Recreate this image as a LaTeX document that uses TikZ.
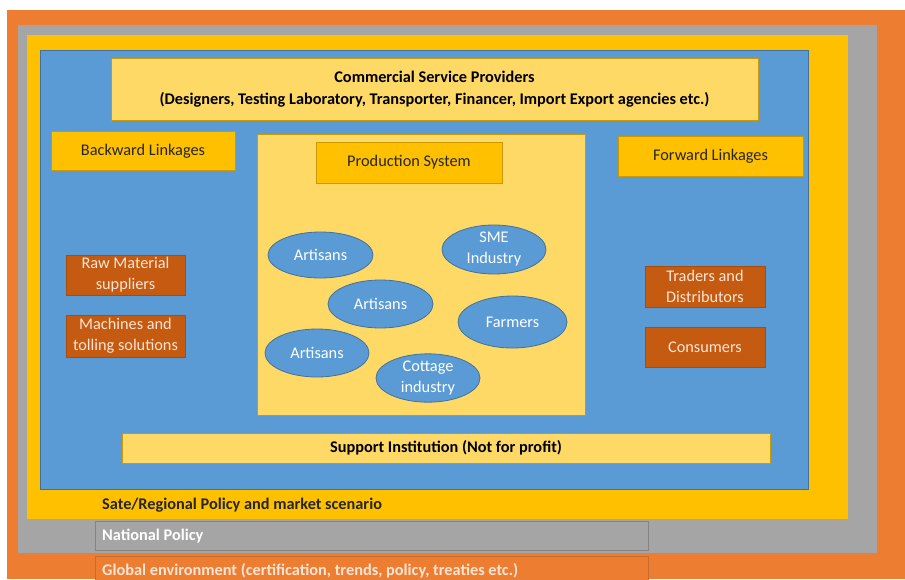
\documentclass[tikz,border=0pt]{standalone}
\usepackage{fontspec}
\setmainfont{Carlito}
\usetikzlibrary{shapes.geometric}

\definecolor{bandorange}{HTML}{ED7D31}
\definecolor{bandgray}{HTML}{A5A5A5}
\definecolor{bandgold}{HTML}{FFC000}
\definecolor{bandblue}{HTML}{5B9BD5}
\definecolor{paleyellow}{HTML}{FFD966}
\definecolor{rust}{HTML}{C55A11}
\definecolor{cream}{HTML}{FBE5D6}
\definecolor{blueedge}{HTML}{41719C}
\definecolor{goldedge}{HTML}{C99A06}
\definecolor{textdark}{HTML}{262626}

\tikzset{
  labelfont/.style={font=\fontsize{16.3}{21}\selectfont},
  boldfont/.style={font=\bfseries\fontsize{16.3}{22}\selectfont},
  goldbox/.style={rectangle, inner sep=0pt, align=center, labelfont,
    fill=bandgold, draw=goldedge, line width=0.8pt, text=textdark},
  palebox/.style={rectangle, inner sep=0pt, align=center,
    fill=paleyellow, draw=goldedge, line width=0.6pt, text=black},
  rustbox/.style={rectangle, inner sep=0pt, align=center, labelfont,
    fill=rust, draw=rust!85!black, line width=0.6pt, text=cream},
  unit/.style={ellipse, inner sep=0pt, align=center,
    font=\fontsize{16.3}{21}\selectfont,
    fill=bandblue, draw=blueedge, line width=0.8pt, text=white},
  bandlabel/.style={anchor=west, inner sep=0pt, boldfont},
}

\begin{document}
\begin{tikzpicture}[x=1pt,y=-1pt]
  \useasboundingbox (0,0) rectangle (905,579);
  \fill[white] (0,0) rectangle (905,579);

  % nested environment layers
  \fill[bandorange] (7,10) rectangle (905,579);
  \fill[bandgray] (18,25) rectangle (877,553);
  \fill[bandgold] (27,35) rectangle (848,519);
  \fill[bandblue] (40,50) rectangle (808,489);
  \draw[blueedge, line width=0.6pt] (40,50) rectangle (808,489);

  % top and bottom providers
  \node[palebox, boldfont, minimum width=647pt, minimum height=62pt]
    (csp) at (434.5,89.5)
    {Commercial Service Providers\\
     (Designers, Testing Laboratory, Transporter, Financer, Import Export agencies etc.)};
  \node[palebox, boldfont, minimum width=648pt, minimum height=30pt]
    (support) at (446,448) {Support Institution (Not for profit)};

  % linkages
  \node[goldbox, minimum width=184pt, minimum height=39pt]
    (backward) at (143,151) {Backward Linkages};
  \node[goldbox, minimum width=185pt, minimum height=40pt]
    (forward) at (710.5,156) {Forward Linkages};

  \node[rustbox, minimum width=119pt, minimum height=40pt]
    (raw) at (125.5,275) {Raw Material\\suppliers};
  \node[rustbox, minimum width=119pt, minimum height=42pt]
    (machines) at (125.5,336) {Machines and\\tolling solutions};
  \node[rustbox, minimum width=120pt, minimum height=41pt]
    (traders) at (705,286.5) {Traders and\\Distributors};
  \node[rustbox, minimum width=120pt, minimum height=40pt]
    (consumers) at (705,347) {Consumers};

  % production system
  \node[palebox, minimum width=328pt, minimum height=281pt]
    (production) at (421,274.5) {};
  \node[goldbox, minimum width=186pt, minimum height=41pt]
    (prodtitle) at (409,162.5) {Production System};

  \node[unit, minimum width=105pt, minimum height=46pt] (art1) at (320.5,255) {Artisans};
  \node[unit, minimum width=104pt, minimum height=49pt] (sme) at (494,249.5) {SME\\Industry};
  \node[unit, minimum width=105pt, minimum height=48pt] (art2) at (380.5,304) {Artisans};
  \node[unit, minimum width=109pt, minimum height=52pt] (farmers) at (512.5,322) {Farmers};
  \node[unit, minimum width=104pt, minimum height=48pt] (art3) at (317,353) {Artisans};
  \node[unit, minimum width=104pt, minimum height=48pt] (cottage) at (428,378) {Cottage\\industry};

  % policy layers
  \node[bandlabel, text=textdark] (regional) at (102,505) {Sate/Regional Policy and market scenario};

  \node[rectangle, inner sep=0pt, minimum width=553pt, minimum height=29pt,
        fill=bandgray, draw=bandgray!80!black, line width=0.6pt]
    (nationalbox) at (371.5,535.5) {};
  \node[bandlabel, text=white] (national) at (102,536) {National Policy};

  \node[rectangle, inner sep=0pt, minimum width=553pt, minimum height=30pt,
        fill=bandorange, draw=bandorange!85!black, line width=0.6pt]
    (globalbox) at (371.5,571) {};
  \node[bandlabel, text=cream] (global) at (102,571)
    {Global environment (certification, trends, policy, treaties etc.)};
\end{tikzpicture}
\end{document}
